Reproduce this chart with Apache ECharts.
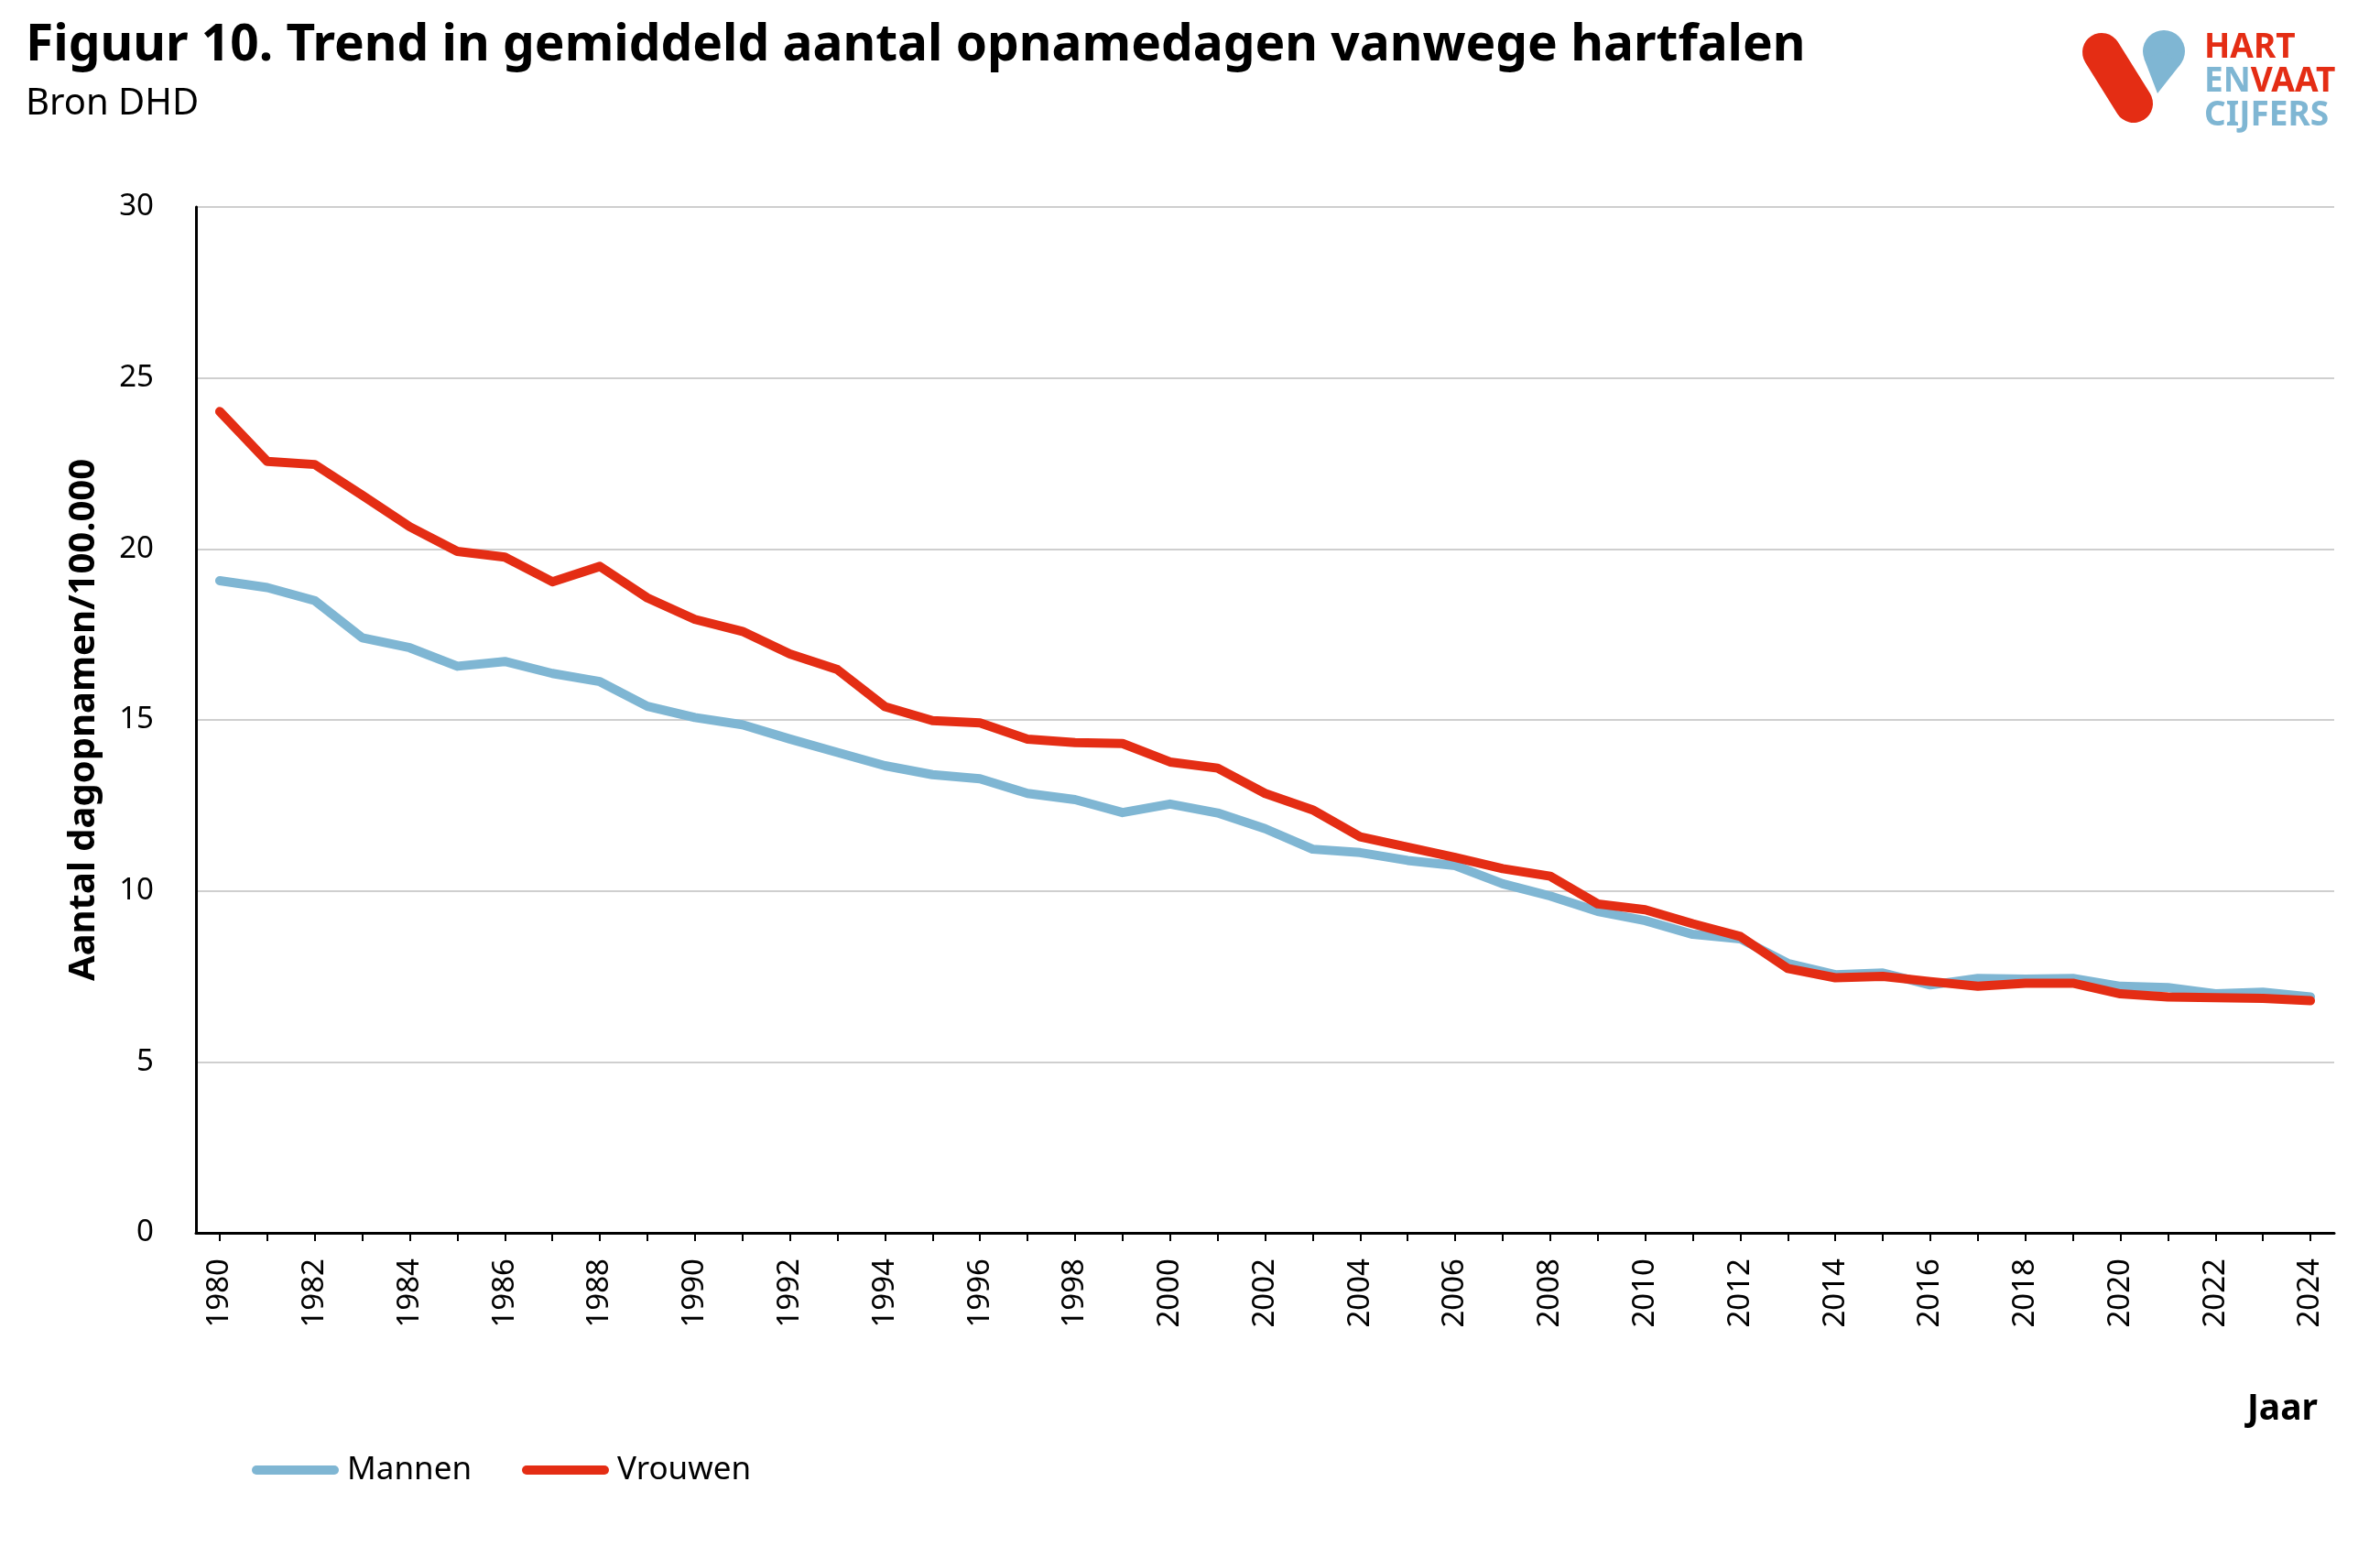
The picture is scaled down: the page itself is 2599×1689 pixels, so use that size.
<!DOCTYPE html>
<html>
<head>
<meta charset="utf-8">
<script src="https://cdn.jsdelivr.net/npm/echarts@6/dist/echarts.min.js"></script>
<style>
html,body{margin:0;padding:0;background:#fff;}
#chart{width:2599px;height:1689px;}
</style>
</head>
<body>
<div id="chart"></div>
<script>
var years = ['1980','1981','1982','1983','1984','1985','1986','1987','1988','1989','1990','1991','1992','1993','1994','1995','1996','1997','1998','1999','2000','2001','2002','2003','2004','2005','2006','2007','2008','2009','2010','2011','2012','2013','2014','2015','2016','2017','2018','2019','2020','2021','2022','2023','2024'];
var mannen = [19.07,18.87,18.49,17.40,17.11,16.57,16.71,16.36,16.12,15.40,15.07,14.86,14.44,14.05,13.66,13.40,13.28,12.85,12.67,12.29,12.54,12.28,11.82,11.22,11.12,10.89,10.74,10.21,9.85,9.40,9.13,8.73,8.60,7.88,7.55,7.60,7.25,7.44,7.42,7.44,7.21,7.17,6.99,7.04,6.90];
var vrouwen = [24.02,22.56,22.47,21.57,20.65,19.93,19.76,19.04,19.49,18.57,17.94,17.59,16.93,16.47,15.39,14.98,14.91,14.44,14.34,14.31,13.77,13.59,12.85,12.37,11.58,11.28,10.98,10.65,10.43,9.62,9.45,9.04,8.67,7.73,7.46,7.50,7.35,7.21,7.30,7.30,6.99,6.90,6.88,6.86,6.79];
var yTicks = {min:0, max:30, interval:5};

var RED = '#e42d14', BLUE = '#7fb6d3';
var FONT = '"Noto Sans", sans-serif';

var chart = echarts.init(document.getElementById('chart'), null, {renderer:'canvas'});
chart.setOption({
  animation:false,
  backgroundColor:'#fff',
  textStyle:{fontFamily:FONT},
  grid:{left:214, right:50, top:226, bottom:343, containLabel:false},
  legend:{
    left:270, top:1580,
    itemWidth:95, itemHeight:10, itemGap:55,
    icon:'path://M5 0H90A5 5 0 0 1 90 10H5A5 5 0 0 1 5 0Z',
    textStyle:{fontFamily:FONT, fontSize:35, color:'#000', lineHeight:40, padding:[0,0,0,4]},
    data:['Mannen','Vrouwen']
  },
  xAxis:{
    type:'category', data:years, boundaryGap:true,
    axisLine:{show:true, lineStyle:{color:'#000', width:3}},
    axisTick:{show:true, alignWithLabel:true, interval:0, length:9, lineStyle:{color:'#000', width:2}},
    axisLabel:{interval:1, rotate:90, margin:28, fontSize:33, color:'#000', fontFamily:FONT},
    splitLine:{show:false}
  },
  yAxis:{
    type:'value', min:yTicks.min, max:yTicks.max, interval:yTicks.interval,
    name:'Aantal dagopnamen/100.000', nameLocation:'middle', nameGap:102, nameRotate:90,
    nameTextStyle:{fontFamily:FONT, fontSize:40, fontWeight:'bold', color:'#000'},
    axisLine:{show:true, lineStyle:{color:'#000', width:3}},
    axisTick:{show:false},
    axisLabel:{margin:46, fontSize:33, color:'#000', fontFamily:FONT},
    splitLine:{show:true, lineStyle:{color:'#cfcfcf', width:2}}
  },
  series:[
    {name:'Mannen', type:'line', data:mannen, symbol:'none', z:2,
     lineStyle:{color:BLUE, width:10, cap:'round', join:'round'}, itemStyle:{color:BLUE}},
    {name:'Vrouwen', type:'line', data:vrouwen, symbol:'none', z:3,
     lineStyle:{color:RED, width:10, cap:'round', join:'round'}, itemStyle:{color:RED}}
  ],
  graphic:[
    {type:'text', left:28, top:23, style:{text:'Figuur 10. Trend in gemiddeld aantal opnamedagen vanwege hartfalen', fontFamily:FONT, fontSize:55, fontWeight:'bold', fill:'#000'}},
    {type:'text', left:28, top:94, style:{text:'Bron DHD', fontFamily:FONT, fontSize:40, fill:'#000'}},
    {type:'text', right:68, top:1519, style:{text:'Jaar', fontFamily:FONT, fontSize:39, fontWeight:'bold', fill:'#000'}},
    {type:'line', shape:{x1:2295,y1:57,x2:2330,y2:113}, style:{stroke:RED, lineWidth:42, lineCap:'round'}},
    {type:'circle', shape:{cx:2363, cy:56, r:23}, style:{fill:BLUE}},
    {type:'polygon', shape:{points:[[2341.5,64.2],[2356,102],[2381,70.3],[2363,56]]}, style:{fill:BLUE}},
    {type:'text', x:2407, y:34, style:{text:'HART', fontFamily:FONT, fontSize:37, fontWeight:'bold', fill:RED}},
    {type:'text', x:2407, y:71, style:{text:'{b|EN}{r|VAAT}', fontFamily:FONT, fontSize:37, fontWeight:'bold',
      rich:{b:{fill:BLUE, fontFamily:FONT, fontSize:37, fontWeight:'bold'}, r:{fill:RED, fontFamily:FONT, fontSize:37, fontWeight:'bold'}}}},
    {type:'text', x:2407, y:108, style:{text:'CIJFERS', fontFamily:FONT, fontSize:37, fontWeight:'bold', fill:BLUE}}
  ]
});
</script>
</body>
</html>
